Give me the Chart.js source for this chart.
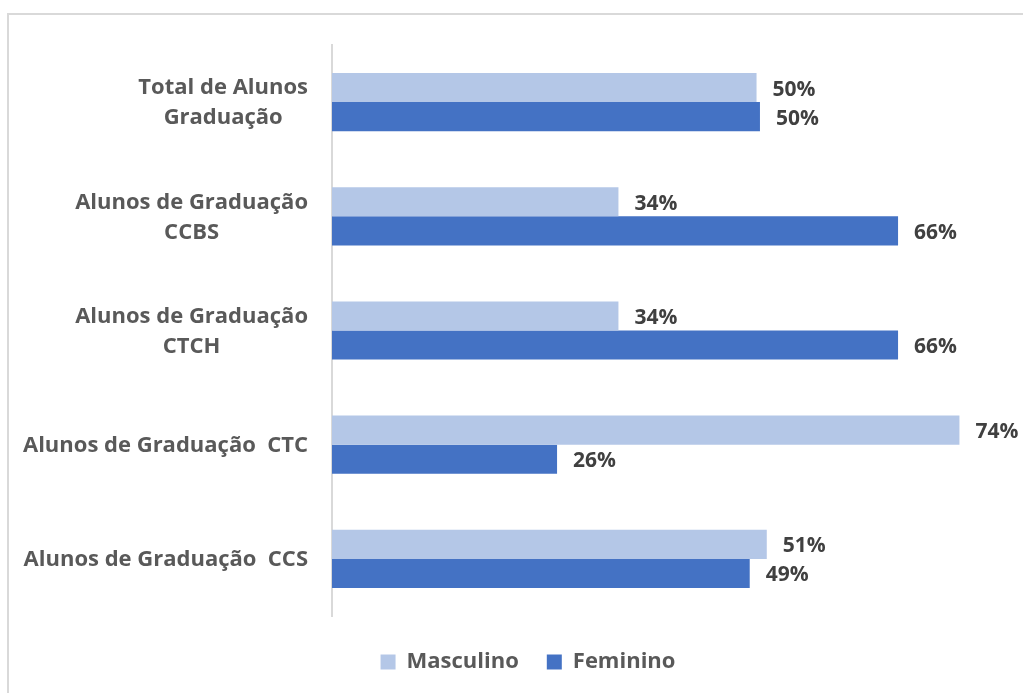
<!DOCTYPE html>
<html>
<head>
<meta charset="utf-8">
<script src="https://cdn.jsdelivr.net/npm/chart.js@4"></script>
<style>
  html, body { margin: 0; padding: 0; background: #fff; }
  #wrap { width: 1023px; height: 693px; position: relative; }
</style>
</head>
<body>
<div id="wrap"><canvas id="chart"></canvas></div>
<script>
const categories = [
  ['Total de Alunos', 'Graduação'],
  ['Alunos de Graduação', 'CCBS'],
  ['Alunos de Graduação', 'CTCH'],
  ['Alunos de Graduação  CTC'],
  ['Alunos de Graduação  CCS']
];
const masculino = [49.8, 33.6, 33.6, 73.6, 51.0];
const feminino = [50.2, 66.4, 66.4, 26.4, 49.0];
const xMax = 80;

const FONT = '"Open Sans", sans-serif';
const textColor = '#595959';
const padLeft = 42;

// frame around the chart (only top and left edges fall inside the window)
const framePlugin = {
  id: 'frame',
  beforeDraw(chart) {
    const ctx = chart.ctx;
    ctx.save();
    ctx.strokeStyle = '#d9d9d9';
    ctx.lineWidth = 2;
    ctx.strokeRect(8, 14, 1040, 700);
    ctx.restore();
  }
};

// category labels, centered per block and right-edged at the axis
const catLabels = {
  id: 'catLabels',
  afterDraw(chart) {
    const ctx = chart.ctx;
    const y = chart.scales.y;
    ctx.save();
    ctx.font = 'bold 22px ' + FONT;
    ctx.fillStyle = textColor;
    ctx.textAlign = 'center';
    ctx.textBaseline = 'middle';
    const right = chart.chartArea.left - 24;
    const lh = 30;
    categories.forEach((lines, i) => {
      const cy = y.getPixelForValue(i) + 1;
      const w = Math.max(...lines.map(l => ctx.measureText(l).width));
      const cx = right - w / 2;
      lines.forEach((l, j) => {
        ctx.fillText(l, cx, cy + (j - (lines.length - 1) / 2) * lh);
      });
    });
    ctx.restore();
  }
};

// value labels at the end of every bar
const valueLabels = {
  id: 'valueLabels',
  afterDatasetsDraw(chart) {
    const ctx = chart.ctx;
    ctx.save();
    ctx.font = 'bold 21px ' + FONT;
    ctx.fillStyle = '#404040';
    ctx.textAlign = 'left';
    ctx.textBaseline = 'middle';
    chart.data.datasets.forEach((ds, di) => {
      chart.getDatasetMeta(di).data.forEach((bar, i) => {
        ctx.fillText(Math.round(ds.data[i]) + '%', bar.x + 16, bar.y + 2);
      });
    });
    ctx.restore();
  }
};

new Chart(document.getElementById('chart'), {
  type: 'bar',
  data: {
    labels: categories,
    datasets: [
      { label: 'Masculino', data: masculino, backgroundColor: '#b4c7e7', categoryPercentage: 0.51, barPercentage: 1 },
      { label: 'Feminino', data: feminino, backgroundColor: '#4472c4', categoryPercentage: 0.51, barPercentage: 1 }
    ]
  },
  options: {
    indexAxis: 'y',
    responsive: true,
    maintainAspectRatio: false,
    animation: false,
    layout: { padding: { top: 45, right: 9, bottom: 10, left: padLeft } },
    scales: {
      x: {
        min: 0, max: xMax,
        ticks: { display: false },
        grid: { display: false, drawTicks: false },
        border: { display: false },
        afterFit(scale) { scale.height = 7; }
      },
      y: {
        ticks: { display: false },
        grid: { display: false, drawTicks: false },
        border: { display: true, color: '#d9d9d9', width: 2 },
        afterFit(scale) { scale.width = 332 - padLeft; }
      }
    },
    plugins: {
      legend: {
        position: 'bottom',
        labels: {
          color: textColor,
          font: { family: FONT, size: 22, weight: 'bold' },
          boxWidth: 15, boxHeight: 15,
          padding: 28
        }
      },
      tooltip: { enabled: false }
    }
  },
  plugins: [framePlugin, catLabels, valueLabels]
});
</script>
</body>
</html>
